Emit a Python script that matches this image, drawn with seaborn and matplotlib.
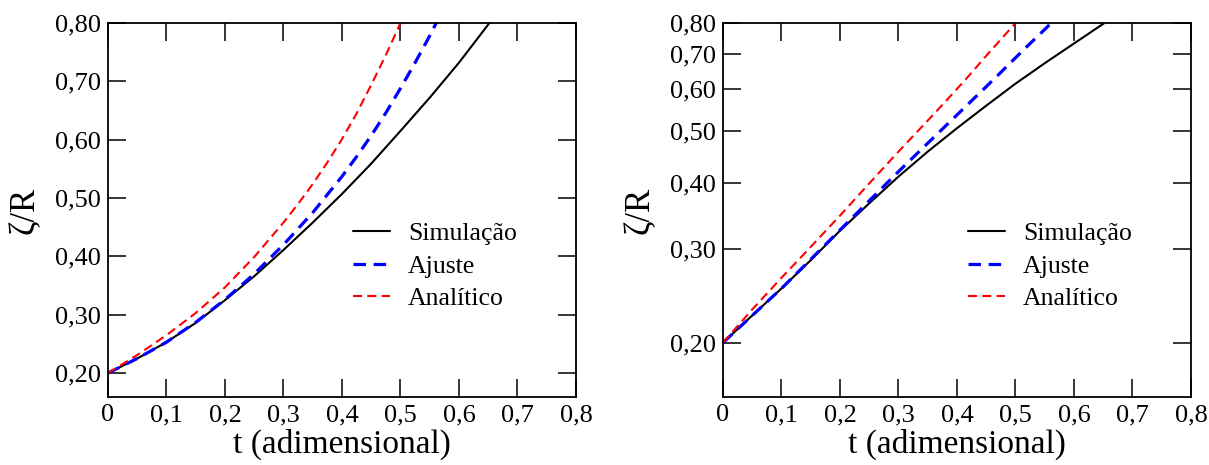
import matplotlib
matplotlib.use("Agg")
import matplotlib.pyplot as plt
import seaborn as sns
import numpy as np

# curves (t adimensional, zeta/R)
t_sim = [0.0, 0.05, 0.1, 0.15, 0.2, 0.25, 0.3, 0.35, 0.4, 0.45, 0.5, 0.55, 0.6, 0.652]
z_sim = [0.200, 0.225, 0.253, 0.286, 0.325, 0.366, 0.411, 0.458, 0.507, 0.559, 0.615, 0.672, 0.732, 0.800]

t_fit = [0.0, 0.05, 0.1, 0.15, 0.2, 0.25, 0.3, 0.35, 0.4, 0.425, 0.45, 0.475, 0.5, 0.525, 0.55, 0.561]
z_fit = [0.200, 0.225, 0.253, 0.287, 0.326, 0.370, 0.420, 0.475, 0.537, 0.571, 0.607, 0.646, 0.688, 0.732, 0.778, 0.800]

t_ana = [0.0, 0.05, 0.1, 0.15, 0.2, 0.25, 0.3, 0.325, 0.35, 0.375, 0.4, 0.425, 0.45, 0.475, 0.5]
z_ana = [0.200, 0.231, 0.265, 0.303, 0.347, 0.399, 0.458, 0.490, 0.524, 0.561, 0.601, 0.645, 0.694, 0.745, 0.800]

labels = ["Simulação", "Ajuste", "Analítico"]
xticks = [0, 0.1, 0.2, 0.3, 0.4, 0.5, 0.6, 0.7, 0.8]
xticklabels = ["0", "0,1", "0,2", "0,3", "0,4", "0,5", "0,6", "0,7", "0,8"]
yticks = [0.2, 0.3, 0.4, 0.5, 0.6, 0.7, 0.8]
yticklabels = ["0,20", "0,30", "0,40", "0,50", "0,60", "0,70", "0,80"]

sns.set_style("ticks")
plt.rcParams['font.family'] = ['Liberation Serif', 'DejaVu Serif']
plt.rcParams['lines.scale_dashes'] = False
plt.rcParams['text.color'] = 'black'
plt.rcParams['axes.labelcolor'] = 'black'
plt.rcParams['xtick.color'] = 'black'
plt.rcParams['ytick.color'] = 'black'

fig = plt.figure(figsize=(12.09, 4.65), dpi=100)
ax1 = fig.add_axes([0.0893, 0.1462, 0.3871, 0.8043])
ax2 = fig.add_axes([0.598, 0.1462, 0.3871, 0.8043])

for ax, logy in [(ax1, False), (ax2, True)]:
    sns.lineplot(x=t_sim, y=z_sim, ax=ax, color='black', lw=1.5, label=labels[0])
    sns.lineplot(x=t_fit, y=z_fit, ax=ax, color='#0000ff', lw=2.3,
                 linestyle=(0, (9, 5.5)), label=labels[1])
    sns.lineplot(x=t_ana, y=z_ana, ax=ax, color='#ff0000', lw=1.5,
                 linestyle=(0, (6.5, 3.8)), label=labels[2])
    if logy:
        ax.set_yscale('log')
        ax.set_ylim(0.158, 0.8)
    else:
        ax.set_ylim(0.159, 0.8)
    ax.set_xlim(0, 0.8)
    ax.set_xticks(xticks, xticklabels)
    ax.set_yticks(yticks, yticklabels)
    ax.minorticks_off()
    ax.tick_params(direction='in', length=13, width=1.1, top=True, right=True,
                   labelsize=19, pad=5)
    for sp in ax.spines.values():
        sp.set_linewidth(1.3)
        sp.set_color('black')
    ax.set_xlabel("t (adimensional)", fontsize=24, labelpad=2)
    ax.set_ylabel("ζ/R", fontsize=25, labelpad=10)
    ax.legend(loc='center left', bbox_to_anchor=(0.523, 0.35), frameon=False,
              fontsize=18.5, handlelength=1.45, handletextpad=0.7,
              labelspacing=0.38, borderpad=0, borderaxespad=0)

fig.savefig("out.png", dpi=100)
